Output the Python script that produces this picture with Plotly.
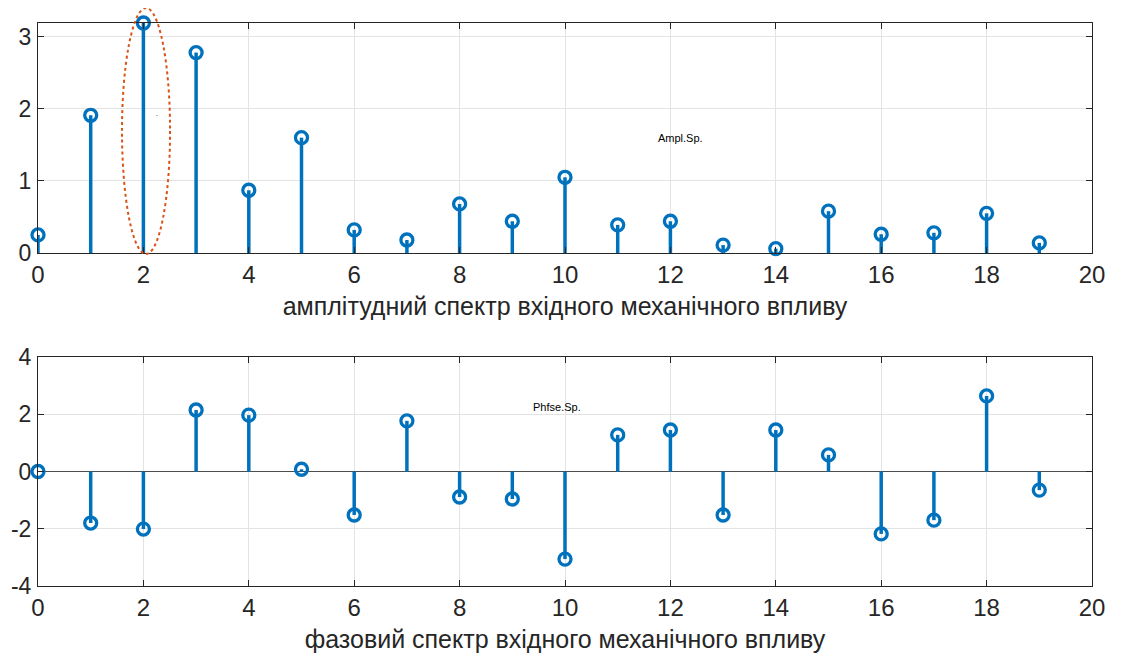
import plotly.graph_objects as go
from plotly.subplots import make_subplots

harmonics = list(range(20))
amplitude = [0.25, 1.91, 3.19, 2.78, 0.87, 1.60, 0.32, 0.18, 0.68, 0.44,
             1.05, 0.39, 0.44, 0.11, 0.06, 0.58, 0.26, 0.28, 0.55, 0.14]
phase = [0.0, -1.80, -2.01, 2.15, 1.97, 0.08, -1.52, 1.77, -0.89, -0.96,
         -3.06, 1.28, 1.45, -1.52, 1.45, 0.58, -2.18, -1.70, 2.64, -0.65]

x_ticks = [0, 2, 4, 6, 8, 10, 12, 14, 16, 18, 20]
amp_ticks = [0, 1, 2, 3]
ph_ticks = [-4, -2, 0, 2, 4]
ph_ticktext = ["-4", "-2", "0", "2", "4"]

amp_title = "амплітудний спектр вхідного механічного впливу"
ph_title = "фазовий спектр вхідного механічного впливу"

BLUE = "#0072BD"
AX = "#262626"
GRID = "#e3e3e3"
FONT = "Liberation Sans, Arial, sans-serif"

fig = make_subplots(rows=2, cols=1)


def stems(xs, ys):
    sx, sy = [], []
    for xv, yv in zip(xs, ys):
        sx += [xv, xv, None]
        sy += [0, yv, None]
    return sx, sy


for row, vals in ((1, amplitude), (2, phase)):
    sx, sy = stems(harmonics, vals)
    fig.add_trace(go.Scatter(x=sx, y=sy, mode="lines",
                             line=dict(color=BLUE, width=3.5),
                             hoverinfo="skip", showlegend=False), row=row, col=1)
    fig.add_trace(go.Scatter(x=harmonics, y=vals, mode="markers",
                             marker=dict(symbol="circle-open", size=12, color=BLUE,
                                         line=dict(width=3.3, color=BLUE)),
                             showlegend=False, cliponaxis=False), row=row, col=1)

axis_common = dict(showline=True, linecolor=AX, linewidth=1, mirror="ticks",
                   ticks="inside", ticklen=6, tickcolor=AX, automargin=False,
                   showgrid=True, gridcolor=GRID, gridwidth=1)

fig.update_xaxes(**axis_common, range=[0, 20], tickvals=x_ticks, zeroline=False,
                 tickfont=dict(family=FONT, size=24, color=AX))
fig.update_xaxes(title=dict(text=amp_title, font=dict(family=FONT, size=25, color=AX), standoff=10),
                 domain=[0, 1], row=1, col=1)
fig.update_xaxes(title=dict(text=ph_title, font=dict(family=FONT, size=25, color=AX), standoff=10),
                 domain=[0, 1], row=2, col=1)

fig.update_yaxes(**axis_common, ticklabelstandoff=1,
                 tickfont=dict(family=FONT, size=23, color=AX))
fig.update_yaxes(range=[0, 3.19], tickvals=amp_ticks, zeroline=False,
                 domain=[0.5915, 1.0], row=1, col=1)
fig.update_yaxes(range=[-4, 4], tickvals=ph_ticks, ticktext=ph_ticktext,
                 zeroline=True, zerolinecolor="#4d4d4d", zerolinewidth=1,
                 domain=[0.0, 0.4067], row=2, col=1)

fig.add_annotation(x=12.2, y=1.6, xref="x", yref="y", text="Ampl.Sp.",
                   showarrow=False, font=dict(family=FONT, size=11, color="#000000"))
fig.add_annotation(x=9.85, y=2.25, xref="x2", yref="y2", text="Phfse.Sp.",
                   showarrow=False, font=dict(family=FONT, size=11, color="#000000"))
fig.add_annotation(x=2.26, y=1.93, xref="x", yref="y", text=".",
                   showarrow=False, font=dict(family=FONT, size=7, color="#000000"))

# dotted ellipse highlighting the dominant harmonic
fig.add_shape(type="circle", xref="paper", yref="paper",
              x0=0.0797, x1=0.1253, y0=0.5897, y1=1.0266,
              line=dict(color="#D95319", width=2, dash="dot"))

fig.update_layout(width=1122, height=659,
                  margin=dict(l=30, r=38, t=15, b=81),
                  paper_bgcolor="white", plot_bgcolor="white",
                  font=dict(family=FONT, color=AX))

fig.write_html("out.html")
